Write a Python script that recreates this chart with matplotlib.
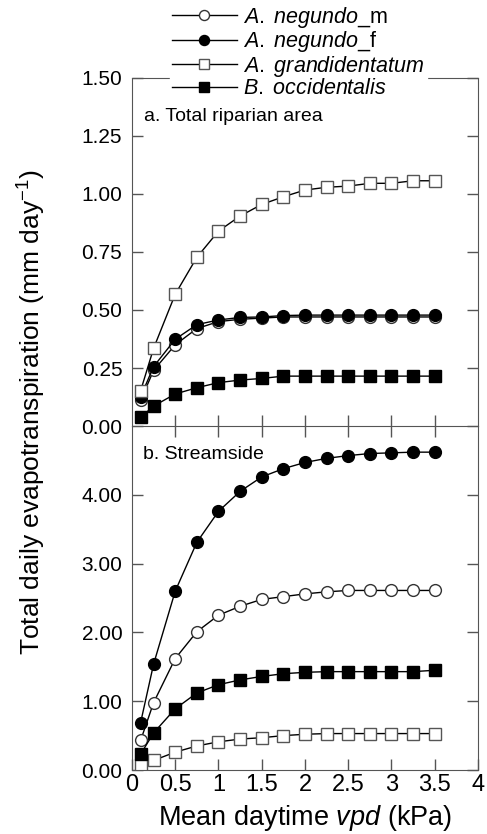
import matplotlib
matplotlib.use("Agg")
from matplotlib import pyplot as plt

plt.rcParams['font.family'] = ['Liberation Sans', 'DejaVu Sans']
plt.rcParams['mathtext.fontset'] = 'custom'
plt.rcParams['mathtext.rm'] = 'Liberation Sans'
plt.rcParams['mathtext.it'] = 'Liberation Sans:italic'

# vpd classes (kPa)
vpd = [0.1, 0.25, 0.5, 0.75, 1.0, 1.25, 1.5, 1.75, 2.0, 2.25, 2.5, 2.75, 3.0, 3.25, 3.5]

# a. total riparian area
a_neg_m = [0.11, 0.24, 0.35, 0.42, 0.45, 0.46, 0.465, 0.47, 0.47, 0.47, 0.47, 0.47, 0.47, 0.47, 0.47]
a_neg_f = [0.126, 0.256, 0.374, 0.437, 0.457, 0.468, 0.470, 0.476, 0.478, 0.478, 0.478, 0.478, 0.478, 0.478, 0.478]
a_grand = [0.152, 0.335, 0.568, 0.727, 0.840, 0.905, 0.955, 0.988, 1.017, 1.029, 1.034, 1.046, 1.046, 1.057, 1.057]
a_occ = [0.037, 0.086, 0.138, 0.165, 0.187, 0.198, 0.205, 0.215, 0.215, 0.215, 0.215, 0.215, 0.215, 0.215, 0.215]

# b. streamside
b_neg_m = [0.43, 0.98, 1.62, 2.01, 2.25, 2.38, 2.48, 2.52, 2.56, 2.59, 2.61, 2.61, 2.61, 2.61, 2.61]
b_neg_f = [0.69, 1.54, 2.60, 3.31, 3.76, 4.05, 4.26, 4.38, 4.47, 4.53, 4.57, 4.60, 4.61, 4.62, 4.62]
b_grand = [0.07, 0.14, 0.26, 0.35, 0.41, 0.45, 0.47, 0.50, 0.52, 0.53, 0.53, 0.53, 0.53, 0.53, 0.53]
b_occ = [0.23, 0.54, 0.89, 1.12, 1.24, 1.31, 1.36, 1.40, 1.42, 1.43, 1.43, 1.43, 1.43, 1.43, 1.45]

labels = [r"$\mathit{A.\ negundo\_}$m", r"$\mathit{A.\ negundo\_}$f",
          r"$\mathit{A.\ grandidentatum}$", r"$\mathit{B.\ occidentalis}$"]

styles = [dict(marker='o', mfc='white', mec='#333333', ms=8.5),
          dict(marker='o', mfc='black', mec='black', ms=8.5),
          dict(marker='s', mfc='white', mec='#555555', ms=8.5),
          dict(marker='s', mfc='black', mec='black', ms=8)]

fig = plt.figure(figsize=(4.87, 8.34), dpi=100)
ax1 = fig.add_axes([0.271, 0.4892, 0.7105, 0.4173])
ax2 = fig.add_axes([0.271, 0.0767, 0.7105, 0.4125])

spine_col = '#555555'

for ax, series in [(ax1, [a_neg_m, a_neg_f, a_grand, a_occ]),
                   (ax2, [b_neg_m, b_neg_f, b_grand, b_occ])]:
    for ys, st, lab in zip(series, styles, labels):
        ax.plot(vpd, ys, color='black', lw=1, mew=1, label=lab, **st)
    ax.set_xlim(0, 4)
    for s in ax.spines.values():
        s.set_color(spine_col)
    ax.tick_params(direction='in', length=8, width=1, color=spine_col,
                   left=True, right=True, top=False, bottom=True,
                   labelsize=15, pad=7)

ax1.set_ylim(0, 1.5)
ax1.set_yticks([0, 0.25, 0.5, 0.75, 1.0, 1.25, 1.5])
ax1.set_yticklabels(['0.00', '0.25', '0.50', '0.75', '1.00', '1.25', '1.50'])
ax1.set_xticks([0.5, 1, 1.5, 2, 2.5, 3, 3.5])
ax1.tick_params(axis='x', direction='inout', length=16, labelbottom=False)

ax2.set_ylim(0, 5)
ax2.set_yticks([0, 1, 2, 3, 4])
ax2.set_yticklabels(['0.00', '1.00', '2.00', '3.00', '4.00'])
ax2.set_xticks([0, 0.5, 1, 1.5, 2, 2.5, 3, 3.5, 4])
ax2.set_xticklabels(['0', '0.5', '1', '1.5', '2', '2.5', '3', '3.5', '4'])
ax2.tick_params(axis='x', labelsize=17, pad=3)
ax2.spines['top'].set_visible(False)
ax2.patch.set_alpha(0)
ax1.set_zorder(2)
ax1.patch.set_alpha(0)

ax1.text(0.035, 0.875, 'a. Total riparian area', transform=ax1.transAxes, fontsize=14)
ax2.text(0.032, 0.905, 'b. Streamside', transform=ax2.transAxes, fontsize=14)

ax2.set_xlabel(r"Mean daytime $\mathit{vpd}$ (kPa)", fontsize=19.5, labelpad=5)
fig.text(0.066, 0.506, r"Total daily evapotranspiration (mm day$^{-1}$)",
         rotation=90, ha='center', va='center', fontsize=19)

h, l = ax1.get_legend_handles_labels()
leg = fig.legend(h, l, loc='upper left', bbox_to_anchor=(0.34, 1.002),
                 fontsize=15.5, frameon=True, framealpha=1, edgecolor='white',
                 facecolor='white', fancybox=False, handlelength=3.0,
                 handletextpad=0.3, labelspacing=-0.02, borderpad=0.1,
                 borderaxespad=0.2, markerscale=0.85)

fig.savefig('out.png', dpi=100)
